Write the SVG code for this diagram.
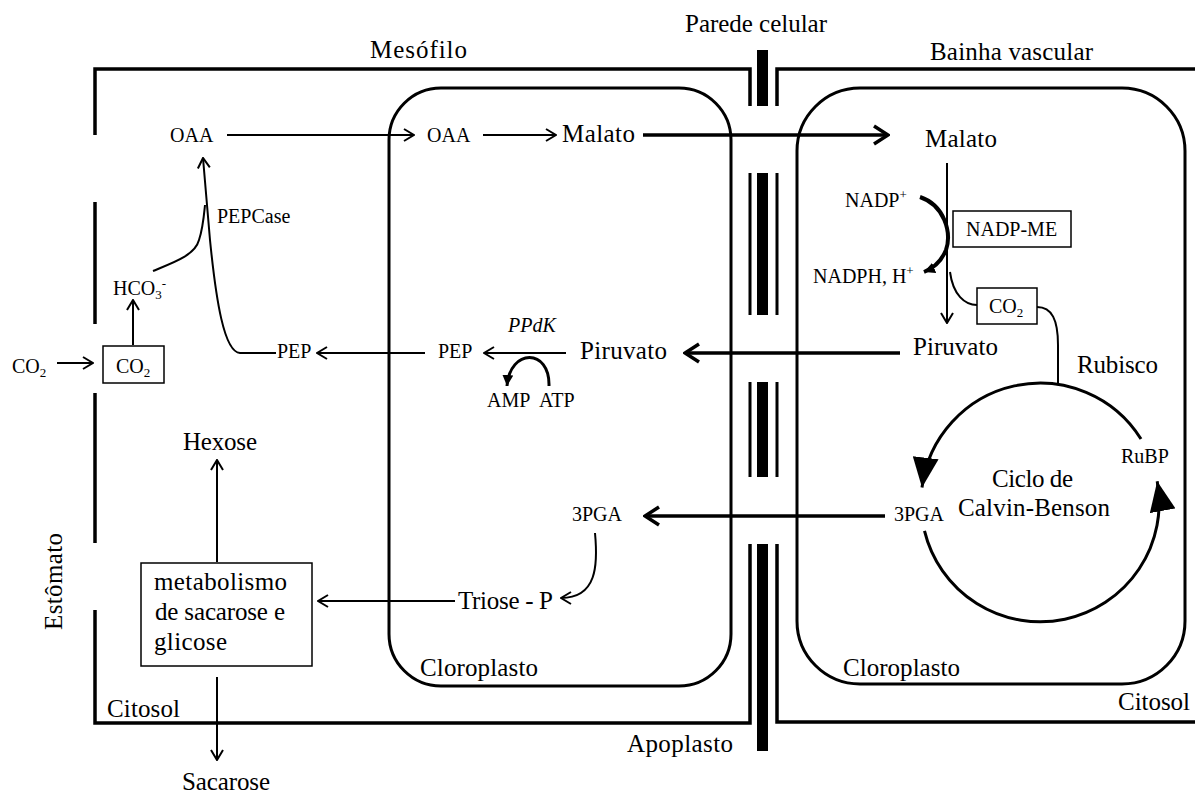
<svg xmlns="http://www.w3.org/2000/svg" width="1195" height="794" viewBox="0 0 1195 794" font-family="Liberation Serif, Tinos, Times New Roman, DejaVu Serif, serif">
<defs>
<style>
text{font-family:'Liberation Serif','Tinos','Times New Roman','DejaVu Serif',serif;fill:#000}
.b{font-size:25px}
.s{font-size:20px}
.sub{font-size:13px}
.cell{fill:none;stroke:#000;stroke-width:3.5}
.wall{fill:none;stroke:#000;stroke-width:3}
.bar{fill:none;stroke:#000;stroke-width:11}
.chl{fill:none;stroke:#000;stroke-width:3}
.box{fill:#fff;stroke:#000;stroke-width:1.5}
.c{fill:none;stroke:#000;stroke-width:2}
.ct{fill:none;stroke:#000;stroke-width:3.5}
.cy{fill:none;stroke:#000;stroke-width:3}
</style>
<marker id="ao" viewBox="0 0 12 14" refX="11" refY="7" markerWidth="12" markerHeight="14" markerUnits="userSpaceOnUse" orient="auto"><path d="M1,1 L11,7 L1,13" fill="none" stroke="#000" stroke-width="2"/></marker>
<marker id="at" viewBox="0 0 18 22" refX="16" refY="11" markerWidth="18" markerHeight="22" markerUnits="userSpaceOnUse" orient="auto"><path d="M2,2 L16,11 L2,20" fill="none" stroke="#000" stroke-width="3.5"/></marker>
<marker id="af" viewBox="0 0 30 26" refX="30" refY="13" markerWidth="30" markerHeight="26" markerUnits="userSpaceOnUse" orient="auto"><path d="M0,0 L30,13 L0,26 z" fill="#000"/></marker>
<marker id="as" viewBox="0 0 11 11" refX="11" refY="5.5" markerWidth="11" markerHeight="11" markerUnits="userSpaceOnUse" orient="auto"><path d="M0,0 L11,5.5 L0,11 z" fill="#000"/></marker>
</defs>
<rect width="1195" height="794" fill="#fff"/>

<g id="mesophyll-cell">
<path class="cell" d="M95,135 L95,69 L750,69 L750,106"/>
<path class="cell" d="M95,202 L95,324"/>
<path class="cell" d="M95,393 L95,543"/>
<path class="cell" d="M95,610 L95,723 L750,723 L750,544"/>
</g>
<g id="bundle-sheath-cell">
<path class="cell" d="M1195,69 L777,69 L777,106"/>
<path class="cell" d="M777,544 L777,722 L1195,722"/>
</g>
<g id="cell-wall">
<path class="wall" d="M750,173 L750,315 M750,382 L750,477 M777,173 L777,315 M777,382 L777,477"/>
<path class="bar" d="M762.5,50 L762.5,106 M762.5,173 L762.5,315 M762.5,382 L762.5,477 M762.5,544 L762.5,751"/>
</g>
<g id="chloroplast-mesophyll"><rect class="chl" x="389" y="88" width="342" height="598" rx="52"/></g>
<g id="chloroplast-bundle"><rect class="chl" x="797" y="88" width="388" height="596" rx="63"/></g>

<g id="connectors">
<path class="c" d="M57,363 L93,363" marker-end="url(#ao)"/>
<path class="c" d="M133,345 L133,300" marker-end="url(#ao)"/>
<path class="c" d="M153,271 C175,262 195,255 199,240 C203,228 204,215 205,205"/>
<path class="c" d="M276,353 L240,353 C224,352 216,300 210,240 L203,158" marker-end="url(#ao)"/>
<path class="c" d="M227,135 L414,135" marker-end="url(#ao)"/>
<path class="c" d="M483,135 L556,135" marker-end="url(#ao)"/>
<path class="ct" d="M643,135 L888,135" marker-end="url(#at)"/>
<path class="c" d="M947,163 L947,323" marker-end="url(#ao)"/>
<path fill="none" stroke="#000" stroke-width="4" d="M920,197 C944,205 952,232 946,250 C941,262 934,268 924,272" marker-end="url(#as)"/>
<path class="c" d="M950,272 C953,295 965,305 977,305"/>
<path class="c" d="M1037,307 C1052,307 1058,320 1058,345 L1058,383"/>
<path class="ct" d="M900,353 L685,353" marker-end="url(#at)"/>
<path class="c" d="M566,353 L484,353" marker-end="url(#ao)"/>
<path class="c" d="M425,353 L317,353" marker-end="url(#ao)"/>
<path fill="none" stroke="#000" stroke-width="3" d="M549,386 C550,348 510,348 507,386" marker-end="url(#as)"/>
<path class="ct" d="M885,516 L645,516" marker-end="url(#at)"/>
<path class="c" d="M595,533 C598,565 597,598 561,598" marker-end="url(#ao)"/>
<path class="c" d="M455,601 L318,601" marker-end="url(#ao)"/>
<path class="c" d="M217,562 L217,460" marker-end="url(#ao)"/>
<path class="c" d="M217,677 L217,760" marker-end="url(#ao)"/>
<path class="cy" d="M1141,439 A119,119 0 0 0 922,487.5" marker-end="url(#af)"/>
<path class="cy" d="M924.5,530.8 A119,119 0 0 0 1157.2,481.3" marker-end="url(#af)"/>
</g>

<g id="labels">
<text class="b" x="370" y="58" textLength="97">Mesófilo</text>
<text class="b" x="685" y="32" textLength="142">Parede celular</text>
<text class="b" x="930" y="60" textLength="163">Bainha vascular</text>
<text class="b" x="627" y="752" textLength="106">Apoplasto</text>
<text class="b" x="107" y="717" textLength="73">Citosol</text>
<text class="b" x="1118" y="710" textLength="72">Citosol</text>
<text class="b" x="420" y="676" textLength="118">Cloroplasto</text>
<text class="b" x="843" y="676" textLength="117">Cloroplasto</text>
<text class="b" transform="translate(62,630) rotate(-90)" x="0" y="0" textLength="97">Estômato</text>
</g>

<g id="node-co2-out"><text class="s" x="12" y="373">CO<tspan class="sub" dy="4">2</tspan></text></g>
<g id="node-co2-box"><rect class="box" x="103" y="346" width="61" height="37"/><text class="s" x="116" y="373">CO<tspan class="sub" dy="4">2</tspan></text></g>
<g id="node-hco3"><text class="s" x="113" y="295">HCO<tspan class="sub" dy="4">3</tspan><tspan class="sub" dy="-11">-</tspan></text></g>
<g id="node-oaa-cyt"><text class="s" x="170" y="142">OAA</text></g>
<g id="node-pepcase"><text class="s" x="217" y="223" font-size="21">PEPCase</text></g>
<g id="node-pep-cyt"><text class="s" x="277" y="358">PEP</text></g>
<g id="node-oaa-chl"><text class="s" x="427" y="142">OAA</text></g>
<g id="node-malato-m"><text class="b" x="562" y="142" textLength="73">Malato</text></g>
<g id="node-pep-chl"><text class="s" x="438" y="358">PEP</text></g>
<g id="node-ppdk"><text class="s" x="508" y="332" font-style="italic">PPdK</text></g>
<g id="node-piruvato-m"><text class="b" x="580" y="359" textLength="87">Piruvato</text></g>
<g id="node-amp"><text class="s" x="487" y="407">AMP</text></g>
<g id="node-atp"><text class="s" x="539" y="407">ATP</text></g>
<g id="node-3pga-m"><text class="s" x="572" y="521">3PGA</text></g>
<g id="node-triose"><text class="b" x="458" y="609" textLength="95">Triose - P</text></g>
<g id="node-hexose"><text class="b" x="183" y="450" textLength="74">Hexose</text></g>
<g id="node-metab"><rect class="box" x="141" y="563" width="171" height="103"/>
<text class="b" x="154" y="590" textLength="133">metabolismo</text>
<text class="b" x="155" y="620" textLength="130">de sacarose e</text>
<text class="b" x="154" y="650" textLength="73">glicose</text></g>
<g id="node-sacarose"><text class="b" x="182" y="790" textLength="88">Sacarose</text></g>

<g id="node-malato-b"><text class="b" x="925" y="147" textLength="72">Malato</text></g>
<g id="node-nadp"><text class="s" x="845" y="207">NADP<tspan class="sub" dy="-8">+</tspan></text></g>
<g id="node-nadph"><text class="s" x="813" y="283">NADPH, H<tspan class="sub" dy="-8">+</tspan></text></g>
<g id="node-nadpme"><rect class="box" x="953" y="211" width="118" height="36"/><text class="s" x="966" y="236">NADP-ME</text></g>
<g id="node-co2-b"><rect class="box" x="977" y="288" width="60" height="36"/><text class="s" x="989" y="313">CO<tspan class="sub" dy="4">2</tspan></text></g>
<g id="node-piruvato-b"><text class="b" x="913" y="355" textLength="85">Piruvato</text></g>
<g id="node-rubisco"><text class="b" x="1077" y="373" textLength="81">Rubisco</text></g>
<g id="node-rubp"><text class="s" x="1121" y="463" font-size="19">RuBP</text></g>
<g id="node-ciclo"><text class="b" x="992" y="487" textLength="81">Ciclo de</text><text class="b" x="958" y="516" textLength="152">Calvin-Benson</text></g>
<g id="node-3pga-b"><text class="s" x="894" y="521">3PGA</text></g>
</svg>
